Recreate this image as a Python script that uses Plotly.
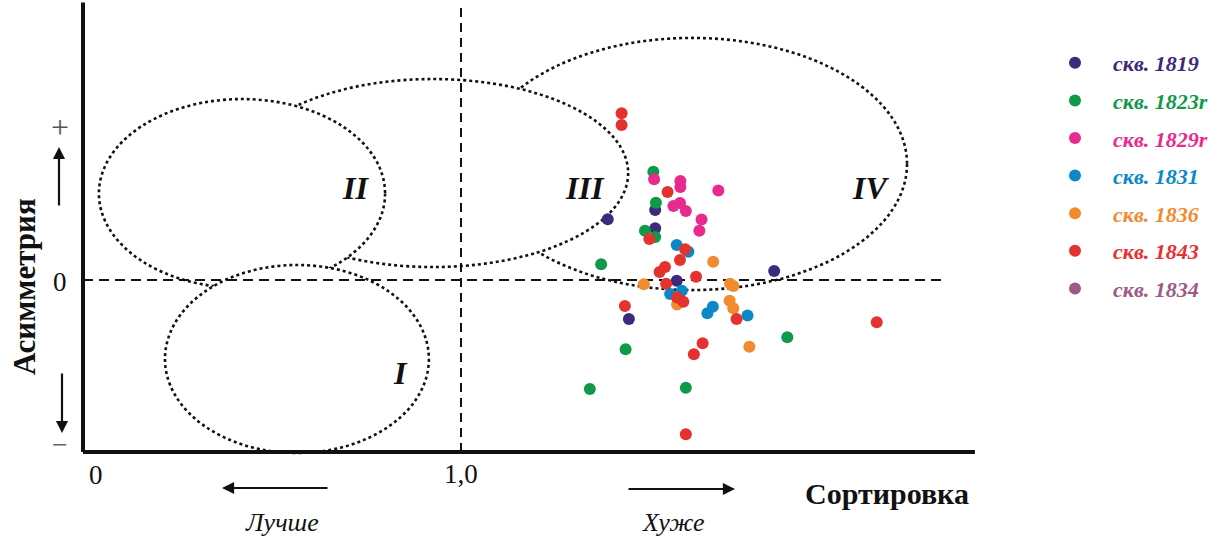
import plotly.graph_objects as go

W, H = 1224, 541
SERIF = "Liberation Serif"

# Wells (legend order) and their colours
wells = ["скв. 1819", "скв. 1823r", "скв. 1829r", "скв. 1831", "скв. 1836", "скв. 1843", "скв. 1834"]
colors = ["#3d2a7c", "#0f9a4a", "#e82a8e", "#0b88c8", "#f28a30", "#e4322e", "#9c5a86"]

# Sorting coefficient (x) and asymmetry (y) per well
sort_1819 = [1.402, 1.532, 1.532, 1.591, 1.858, 1.460]
asym_1819 = [0.379, 0.438, 0.323, -0.004, 0.056, -0.244]

sort_1823 = [1.527, 1.534, 1.504, 1.532, 1.384, 1.894, 1.451, 1.353, 1.616]
asym_1823 = [0.677, 0.483, 0.308, 0.269, 0.098, -0.358, -0.433, -0.681, -0.673]

sort_1829 = [1.529, 1.601, 1.601, 1.705, 1.582, 1.600, 1.616, 1.659, 1.653]
asym_1829 = [0.629, 0.619, 0.581, 0.559, 0.463, 0.481, 0.431, 0.378, 0.308]

sort_1831 = [1.591, 1.623, 1.573, 1.605, 1.690, 1.675, 1.785]
asym_1831 = [0.219, 0.177, -0.088, -0.067, -0.167, -0.208, -0.222]

sort_1836 = [1.691, 1.501, 1.737, 1.746, 1.592, 1.736, 1.746, 1.790]
asym_1836 = [0.114, -0.026, -0.023, -0.038, -0.153, -0.129, -0.177, -0.417]

sort_1843 = [1.440, 1.440, 1.566, 1.516, 1.614, 1.600, 1.559, 1.544, 1.644,
             1.562, 1.592, 1.609, 1.449, 1.755, 1.662, 1.638, 1.616, 2.139]
asym_1843 = [1.042, 0.969, 0.550, 0.256, 0.192, 0.125, 0.081, 0.050, 0.021,
             -0.023, -0.109, -0.136, -0.163, -0.244, -0.396, -0.464, -0.964, -0.264]

sort_1834 = []
asym_1834 = []

series_x = [sort_1819, sort_1823, sort_1829, sort_1831, sort_1836, sort_1843, sort_1834]
series_y = [asym_1819, asym_1823, asym_1829, asym_1831, asym_1836, asym_1843, asym_1834]

# Genetic fields (x0, x1, y0, y1) drawn back to front: IV, III, II, I
fields = {
    "IV": (1.044, 2.222, -0.063, 1.513),
    "III": (0.389, 1.458, 0.081, 1.256),
    "II": (0.008, 0.792, -0.050, 1.131),
    "I": (0.189, 0.912, -1.081, 0.094),
}

# Axis ranges chosen so the plotting area fills the whole page
X_RANGE = [-0.2630, 3.0904]
Y_RANGE = [-1.6313, 1.7500]
X_AXIS_LEFT = -0.0356
Y_AXIS_BOTTOM = -1.075
X_AXIS_RIGHT = 2.408
Y_AXIS_TOP = 1.735
DASH_RIGHT = 2.318


def px(x, y):
    """Pixel position on the page -> paper coordinates."""
    return x / W, 1 - y / H


fig = go.Figure()

for name, col, xs, ys in zip(wells, colors, series_x, series_y):
    fig.add_trace(go.Scatter(
        x=xs if xs else [None], y=ys if ys else [None],
        mode="markers",
        name=f'<span style="color:{col}"><b><i>{name}</i></b></span>',
        legendgroup=name,
        marker=dict(color=col, size=12, line=dict(width=0)),
        hoverinfo="x+y",
    ))

shapes = []
for key, (x0, x1, y0, y1) in fields.items():
    shapes.append(dict(type="circle", xref="x", yref="y", x0=x0, x1=x1, y0=y0, y1=y1,
                       fillcolor="white", line=dict(color="#111", width=2.6, dash="dot"),
                       layer="below"))

# Dashed reference lines: sorting = 1.0 and asymmetry = 0
shapes.append(dict(type="line", xref="x", yref="y", x0=1.0, x1=1.0, y0=Y_AXIS_BOTTOM, y1=Y_AXIS_TOP,
                   line=dict(color="#111", width=2, dash="9px,6px"), layer="below"))
shapes.append(dict(type="line", xref="x", yref="y", x0=X_AXIS_LEFT, x1=DASH_RIGHT, y0=0, y1=0,
                   line=dict(color="#111", width=2, dash="10px,6px"), layer="below"))

# Axis lines
shapes.append(dict(type="line", xref="x", yref="y", x0=X_AXIS_LEFT, x1=X_AXIS_LEFT,
                   y0=Y_AXIS_BOTTOM, y1=Y_AXIS_TOP, line=dict(color="#111", width=4), layer="below"))
shapes.append(dict(type="line", xref="x", yref="y", x0=X_AXIS_LEFT, x1=X_AXIS_RIGHT,
                   y0=Y_AXIS_BOTTOM, y1=Y_AXIS_BOTTOM, line=dict(color="#111", width=4), layer="below"))

annotations = []


def label(text, x, y, size, color="#111", angle=0, **kw):
    ax, ay = px(x, y)
    annotations.append(dict(text=text, x=ax, y=ay, xref="paper", yref="paper",
                            showarrow=False, textangle=angle,
                            font=dict(family=SERIF, size=size, color=color),
                            xanchor="center", yanchor="middle", **kw))


def arrow(x_tip, y_tip, x_tail, y_tail):
    ax, ay = px(x_tip, y_tip)
    annotations.append(dict(text="", x=ax, y=ay, xref="paper", yref="paper",
                            ax=x_tail - x_tip, ay=y_tail - y_tip, axref="pixel", ayref="pixel",
                            showarrow=True, arrowhead=2, arrowsize=1.1, arrowwidth=2.2,
                            arrowcolor="#111"))


# Field labels
label("<b><i>II</i></b>", 355, 188, 32)
label("<b><i>III</i></b>", 585, 188, 32)
label("<b><i>IV</i></b>", 870, 188, 32)
label("<b><i>I</i></b>", 400, 373, 32)

# Axis tick labels
label("0", 96, 475, 27)
label("1,0", 461, 474, 27)
label("0", 60, 282, 27)
label("+", 60, 127, 32, color="#555")
label("−", 60, 444, 28, color="#666")

# Axis titles and direction hints
label("<b>Сортировка</b>", 887, 493, 30)
label("<b>Асимметрия</b>", 24, 287, 31, angle=-90)
label("<i>Лучше</i>", 282, 522, 26)
label("<i>Хуже</i>", 673, 522, 26)

arrow(222, 488, 329, 488)
arrow(735, 489, 627, 489)
arrow(59, 147, 59, 207)
arrow(62, 433, 62, 372)

fig.update_layout(
    width=W, height=H,
    margin=dict(l=0, r=0, t=0, b=0),
    paper_bgcolor="white", plot_bgcolor="white",
    xaxis=dict(range=X_RANGE, visible=False, fixedrange=True),
    yaxis=dict(range=Y_RANGE, visible=False, fixedrange=True),
    shapes=shapes,
    annotations=annotations,
    showlegend=True,
    legend=dict(x=px(1037, 0)[0], y=px(0, 42)[1], xanchor="left", yanchor="top",
                font=dict(family=SERIF, size=22, color="#333"),
                bgcolor="rgba(0,0,0,0)", borderwidth=0,
                tracegroupgap=6, itemwidth=66),
    font=dict(family=SERIF),
)

fig.write_html("out.html")
